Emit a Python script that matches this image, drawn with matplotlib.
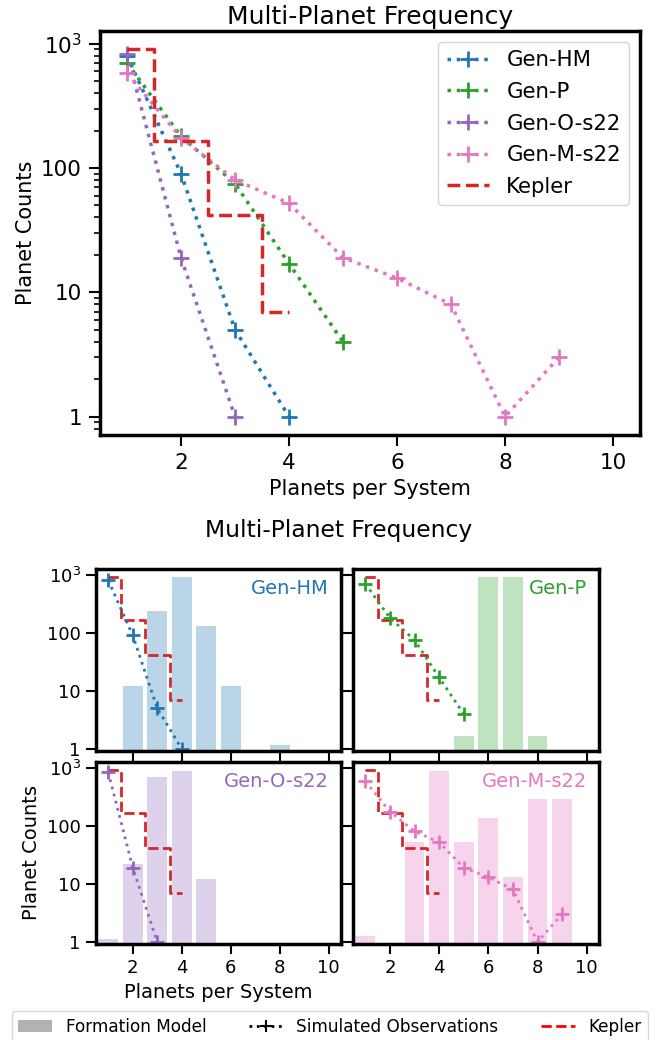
import matplotlib
matplotlib.use("Agg")
import matplotlib.pyplot as plt
from matplotlib.patches import Patch
from matplotlib.lines import Line2D
from matplotlib.ticker import FixedLocator, FixedFormatter, LogLocator, NullFormatter

# planets per system
n_sys = [1, 2, 3, 4, 5, 6, 7, 8, 9, 10]

# simulated observations (counts per multiplicity, starting at 1)
sim_hm = [800, 90, 5, 1]
sim_p = [700, 180, 75, 17, 4]
sim_o = [830, 19, 1]
sim_m = [580, 175, 80, 52, 19, 13, 8, 1, 3]

# Kepler observed counts
kepler = [900, 165, 42, 7]

# formation model counts (0 = no bar)
form_hm = [0, 12, 240, 900, 130, 12, 0, 1.15, 0, 0]
form_p = [0, 0, 0, 0, 1.7, 900, 900, 1.7, 0, 0]
form_o = [1.12, 22, 700, 890, 12, 0, 0, 0, 0, 0]
form_m = [1.25, 0, 53, 890, 53, 138, 13.3, 285, 285, 0]

models = ["Gen-HM", "Gen-P", "Gen-O-s22", "Gen-M-s22"]
colors = ["C0", "C2", "C4", "C6"]
sims = [sim_hm, sim_p, sim_o, sim_m]
forms = [form_hm, form_p, form_o, form_m]

W, H = 657, 1040
fig = plt.figure(figsize=(W / 100, H / 100), dpi=100)


def px_axes(left, top, right, bottom):
    return fig.add_axes([left / W, 1 - bottom / H, (right - left) / W, (bottom - top) / H])


def style_axes(ax, lw=2.5):
    for s in ax.spines.values():
        s.set_linewidth(lw)
        s.set_color("black")


ytick_vals = [1, 10, 100, 1000]
ytick_labs = ["1", "10", "100", "$10^3$"]

# ---- top: all models together ----
ax = px_axes(100, 31, 640, 435)
for name, c, s in zip(models, colors, sims):
    ax.plot(n_sys[:len(s)], s, ":", marker="+", color=c, ms=12, mew=2, lw=2.5, label=name)
ax.step(n_sys[:len(kepler)], kepler, "--", where="mid", color="C3", lw=2.5, label="Kepler")
ax.set_yscale("log")
ax.set_xlim(0.5, 10.5)
ax.set_xticks([2, 4, 6, 8, 10])
ax.yaxis.set_major_locator(FixedLocator(ytick_vals))
ax.yaxis.set_major_formatter(FixedFormatter(ytick_labs))
ax.yaxis.set_minor_locator(LogLocator(subs=range(2, 10)))
ax.yaxis.set_minor_formatter(NullFormatter())
ax.tick_params(which="major", length=8, width=1.5, labelsize=15.5, pad=5)
ax.tick_params(which="minor", length=4.5, width=1.2)
ax.set_xlabel("Planets per System", fontsize=15)
ax.set_ylabel("Planet Counts", fontsize=15)
ax.set_title("Multi-Planet Frequency", fontsize=18, pad=5)
ax.legend(loc="upper right", fontsize=15.3, handlelength=2.0, labelspacing=0.55)
style_axes(ax)

# ---- bottom: one panel per model ----
fig.text(339 / W, 1 - 530 / H, "Multi-Planet Frequency", ha="center", va="center", fontsize=16.8)

cols = [(96, 341), (353, 599)]
rows = [(569, 751), (762, 944)]
for i, (name, c, s, f) in enumerate(zip(models, colors, sims, forms)):
    r, k = divmod(i, 2)
    a = px_axes(cols[k][0], rows[r][0], cols[k][1], rows[r][1])
    xs = [x for x, v in zip(n_sys, f) if v > 0]
    hs = [v for v in f if v > 0]
    a.bar(xs, hs, width=0.8, color=c, alpha=0.3, lw=0)
    a.step(n_sys[:len(kepler)], kepler, "--", where="mid", color="C3", lw=2)
    a.plot(n_sys[:len(s)], s, ":", marker="+", color=c, ms=10, mew=2, lw=2)
    a.set_yscale("log")
    a.set_ylim(0.92, 1250)
    a.set_xlim(0.5, 10.5)
    a.set_xticks([2, 4, 6, 8, 10])
    a.yaxis.set_major_locator(FixedLocator(ytick_vals))
    a.yaxis.set_major_formatter(FixedFormatter(ytick_labs))
    a.yaxis.set_minor_locator(FixedLocator([]))
    a.tick_params(which="major", length=7, width=1.5, labelsize=13, pad=4)
    if k == 1:
        a.tick_params(labelleft=False)
    if r == 0:
        a.tick_params(labelbottom=False)
    a.text(0.95, 0.895, name, color=c, fontsize=14, ha="right", va="center",
           transform=a.transAxes)
    if i == 2:
        a.set_ylabel("Planet Counts", fontsize=14)
        a.set_xlabel("Planets per System", fontsize=14)
    style_axes(a)

handles = [
    Patch(color="k", alpha=0.3, lw=0),
    Line2D([], [], ls=":", marker="+", color="k", ms=8, mew=1.5, lw=2),
    Line2D([], [], ls="--", color="r", lw=2),
]
fig.legend(handles, ["Formation Model", "Simulated Observations", "Kepler"],
           loc="upper center", bbox_to_anchor=(330 / W, 1 - 1003 / H), ncol=3,
           fontsize=12.2, columnspacing=2.5)

fig.savefig("out.png", dpi=100)
